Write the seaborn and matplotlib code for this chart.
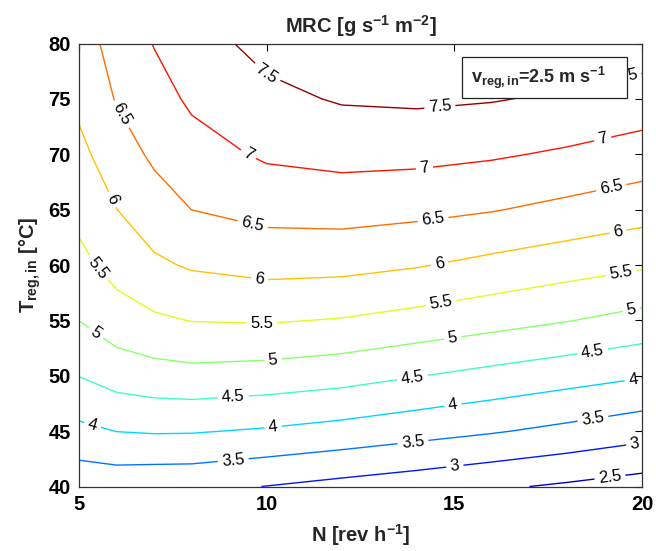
"""Contour map of MRC over rotation speed and regeneration inlet temperature."""

import matplotlib

matplotlib.use("Agg")
import matplotlib.pyplot as plt
import numpy as np
import seaborn as sns
from matplotlib.patches import Rectangle

# grid: rotation speed N [rev/h] and T_reg,in [degC]
N_rev = [5, 6, 7, 8, 10, 12, 14, 16, 18, 20]
T_reg = [40, 45, 50, 55, 60, 65, 70, 75, 80]

# MRC [g s-1 m-2], one row per temperature, one column per N
MRC = [
    [3.15, 3.18, 3.14, 3.13, 2.99, 2.85, 2.72, 2.57, 2.43, 2.28],
    [3.885, 4.007, 4.042, 4.034, 3.948, 3.827, 3.682, 3.541, 3.377, 3.193],
    [4.509, 4.71, 4.803, 4.848, 4.79, 4.686, 4.517, 4.353, 4.196, 4.038],
    [5.004, 5.274, 5.424, 5.513, 5.54, 5.47, 5.333, 5.179, 5.019, 4.835],
    [5.361, 5.677, 5.914, 6.054, 6.165, 6.143, 6.034, 5.867, 5.71, 5.561],
    [5.642, 5.994, 6.285, 6.502, 6.66, 6.694, 6.628, 6.526, 6.37, 6.207],
    [5.874, 6.27, 6.583, 6.804, 7.069, 7.153, 7.134, 7.057, 6.935, 6.78],
    [6.107, 6.53, 6.80, 7.08, 7.38, 7.543, 7.58, 7.53, 7.423, 7.287],
    [6.30, 6.66, 7.02, 7.30, 7.65, 7.87, 7.94, 7.92, 7.85, 7.75],
]

contour_levels = [2.5, 3.0, 3.5, 4.0, 4.5, 5.0, 5.5, 6.0, 6.5, 7.0, 7.5]

# where the inline labels sit (N, T)
label_spots = [
    (9.96, 77.15), (14.62, 74.0), (19.6, 76.7),
    (9.47, 69.7), (14.22, 68.28), (18.97, 71.13),
    (6.09, 73.54), (9.6, 63.3), (14.45, 63.75), (19.19, 66.77),
    (5.74, 65.7), (9.8, 58.4), (14.62, 59.9), (19.37, 62.86),
    (5.43, 59.5), (9.87, 54.43), (14.66, 56.23), (19.46, 59.1),
    (5.38, 53.53), (10.18, 51.1), (14.97, 53.14), (19.73, 55.78),
    (9.11, 47.8), (13.9, 49.46), (18.7, 51.93),
    (5.34, 45.25), (10.18, 45.16), (14.97, 47.2), (19.77, 49.46),
    (9.11, 42.24), (13.9, 43.9), (18.7, 46.0),
    (15.02, 41.64), (19.81, 43.75),
    (19.15, 40.74),
]


def main() -> None:
    sns.set_theme(style="white")
    plt.rcParams["font.family"] = ["Liberation Sans", "DejaVu Sans"]
    plt.rcParams["mathtext.fontset"] = "custom"
    plt.rcParams["mathtext.rm"] = "Liberation Sans:bold"
    plt.rcParams["mathtext.bf"] = "Liberation Sans:bold"
    plt.rcParams["mathtext.it"] = "Liberation Sans:bold"
    plt.rcParams["mathtext.default"] = "bf"

    fig = plt.figure(figsize=(6.56, 5.51), dpi=100)
    ax = fig.add_axes([0.1204, 0.117, 0.8583, 0.804])

    cs = ax.contour(
        np.array(N_rev), np.array(T_reg), np.array(MRC),
        levels=contour_levels, cmap="jet", vmin=2.2, vmax=7.6, linewidths=1.0,
    )
    ax.clabel(cs, manual=label_spots, inline=True, fontsize=12, fmt="%g",
              inline_spacing=4, colors="black")

    ax.set_xlim(5, 20)
    ax.set_ylim(40, 80)
    ax.set_xticks([5, 10, 15, 20])
    ax.set_yticks(range(40, 81, 5))
    ax.tick_params(direction="in", top=True, right=True, length=5, width=0.8,
                   labelsize=14.5, colors="black", pad=6)
    for lbl in ax.get_xticklabels() + ax.get_yticklabels():
        lbl.set_fontweight("bold")
    for spine in ax.spines.values():
        spine.set_color("#333333")
        spine.set_linewidth(0.9)

    ax.set_title(r"MRC [g s$^{-1}$ m$^{-2}$]", fontsize=14.5, fontweight="bold", pad=8)
    ax.set_xlabel(r"N [rev h$^{-1}$]", fontsize=14.5, fontweight="bold", labelpad=6)
    ax.set_ylabel(r"T$_{reg,in}$ [°C]", fontsize=14.5, fontweight="bold", labelpad=4)

    # annotation box in the upper right corner
    ax.add_patch(Rectangle((0.68, 0.878), 0.294, 0.091, transform=ax.transAxes,
                           facecolor="white", edgecolor="#222222", linewidth=0.9, zorder=5))
    ax.text(0.697, 0.923, r"v$_{reg,in}$=2.5 m s$^{-1}$", transform=ax.transAxes,
            fontsize=13, fontweight="bold", va="center", ha="left", zorder=6)

    fig.savefig("out.png", dpi=100)
    plt.close(fig)


if __name__ == "__main__":
    main()
